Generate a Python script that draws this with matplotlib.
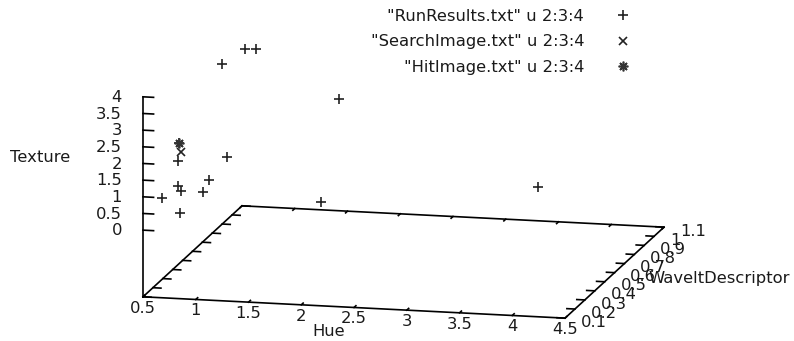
import numpy as np
import matplotlib
matplotlib.use("Agg")
import matplotlib.pyplot as plt
from mpl_toolkits.mplot3d import proj3d

# data (Hue, WaveltDescriptor, Texture)
run_hue = [0.72, 0.82, 0.59, 1.89, 3.87, 2.00, 1.11, 1.03, 0.97, 0.77, 0.74, 0.74, 0.76, 0.68, 0.75]
run_wav = [0.9, 0.9, 0.8, 0.6, 0.5, 0.3, 0.3, 0.2, 0.2, 0.2, 0.2, 0.2, 0.2, 0.1, 0.2]
run_tex = [3.29, 3.31, 3.09, 2.79, 0.74, 0.54, 1.75, 1.32, 0.95, 0.95, 1.10, 1.85, 0.29, 1.00, 2.39]

search_hue = [0.77]
search_wav = [0.2]
search_tex = [2.12]

hit_hue = [0.75]
hit_wav = [0.2]
hit_tex = [2.39]

x_ticks = [0.5, 1, 1.5, 2, 2.5, 3, 3.5, 4, 4.5]
x_labels = ["0.5", "1", "1.5", "2", "2.5", "3", "3.5", "4", "4.5"]
y_ticks = [0.1, 0.2, 0.3, 0.4, 0.5, 0.6, 0.7, 0.8, 0.9, 1.0, 1.1]
y_labels = ["0.1", "0.2", "0.3", "0.4", "0.5", "0.6", "0.7", "0.8", "0.9", "1", "1.1"]
z_ticks = [0, 0.5, 1, 1.5, 2, 2.5, 3, 3.5, 4]
z_labels = ["0", "0.5", "1", "1.5", "2", "2.5", "3", "3.5", "4"]

x0, x1 = 0.5, 4.5
y0, y1 = 0.1, 1.1
z0, z1 = 0, 4
zb = z0 - 0.5 * (z1 - z0)   # gnuplot ticslevel 0.5

W, H = 794, 341
fig = plt.figure(figsize=(W / 100, H / 100), dpi=100)

S = 700.0
cx, cy = 403.5, H - 162.0
ax = fig.add_axes([(cx - 0.5135 * S) / W, (cy - 0.5135 * S) / H, S / W, S / H],
                  projection="3d", proj_type="ortho")
ax.set_box_aspect((1, 1, 0.4725), zoom=0.8963)
ax.view_init(elev=12.45, azim=-76.8)
ax.set_xlim(x0, x1)
ax.set_ylim(y0, y1)
ax.set_zlim(zb, z1)
ax.set_axis_off()

lc = "black"
lw = 1.2
fs = 11.8
tc = "#1a1a1a"
M = ax.get_proj()


def label3d(x, y, z, s, **kw):
    # put a flat text at the projected spot of a 3d point
    px, py, _ = proj3d.proj_transform(x, y, z, M)
    ax.text2D(px, py, s, transform=ax.transData, fontsize=fs, color=tc, **kw)


# base plane and z axis
ax.plot([x0, x1, x1, x0, x0], [y0, y0, y1, y1, y0], [zb] * 5, color=lc, lw=lw)
ax.plot([x0, x0], [y0, y0], [zb, z1], color=lc, lw=lw)

tx = 0.019 * (x1 - x0)
ty = 0.019 * (y1 - y0)
for xt, lab in zip(x_ticks, x_labels):
    ax.plot([xt, xt], [y0, y0 + ty], [zb, zb], color=lc, lw=lw)
    ax.plot([xt, xt], [y1, y1 - ty], [zb, zb], color=lc, lw=lw)
    label3d(xt, y0, zb - 0.34, lab, ha="center", va="center")
for yt, lab in zip(y_ticks, y_labels):
    ax.plot([x0, x0 + tx], [yt, yt], [zb, zb], color=lc, lw=lw)
    ax.plot([x1, x1 - tx], [yt, yt], [zb, zb], color=lc, lw=lw)
    label3d(x1 + 0.15, yt, zb - 0.1, lab, ha="left", va="center")
for zt, lab in zip(z_ticks, z_labels):
    ax.plot([x0, x0 + 0.1], [y0, y0], [zt, zt], color=lc, lw=lw)
    label3d(x0 - 0.2, y0, zt - 0.05, lab, ha="right", va="center")

# points
p1, = ax.plot(run_hue, run_wav, run_tex, linestyle="none", marker="+",
              markersize=7, mew=1.2, color="#222222", label='"RunResults.txt" u 2:3:4')
p2, = ax.plot(search_hue, search_wav, search_tex, linestyle="none", marker="x",
              markersize=6, mew=1.2, color="#222222", label='"SearchImage.txt" u 2:3:4')
p3, = ax.plot(hit_hue, hit_wav, hit_tex, linestyle="none", marker=(8, 2, 0),
              markersize=7, mew=1.2, color="#333333", label='"HitImage.txt" u 2:3:4')

leg = ax.legend(handles=[p1, p2, p3], loc="upper right", frameon=False,
                markerfirst=False, handlelength=2.0, handletextpad=1.35,
                labelspacing=0.64, borderpad=0, borderaxespad=0, fontsize=fs,
                bbox_to_anchor=(639 / W, 1 - 9 / H), bbox_transform=fig.transFigure)
for t in leg.get_texts():
    t.set_color(tc)

# axis labels
fig.text(40 / W, 1 - 158 / H, "Texture", ha="center", va="center", fontsize=fs, color=tc)
fig.text(329 / W, 1 - 331 / H, "Hue", ha="center", va="center", fontsize=fs, color=tc)
fig.text(648 / W, 1 - 278 / H, "WaveltDescriptor", ha="left", va="center", fontsize=fs, color=tc)

fig.savefig("out.png", dpi=100)
